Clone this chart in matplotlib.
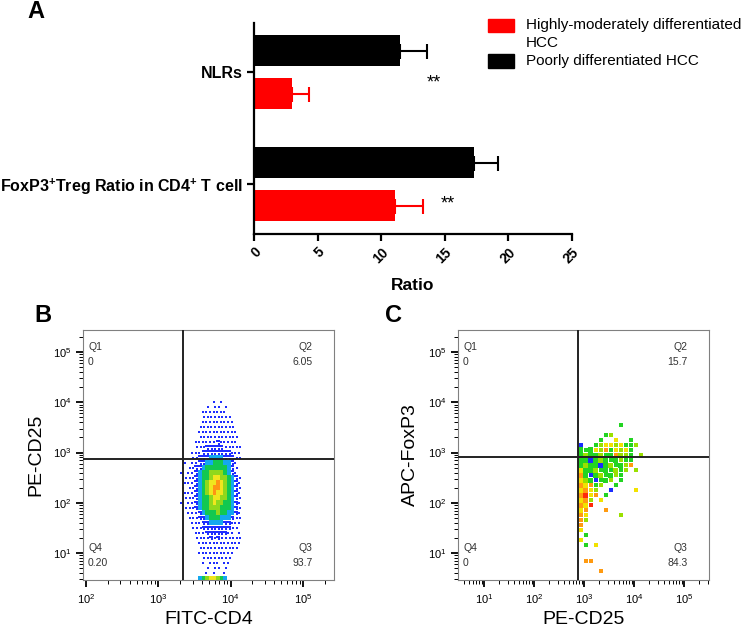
import numpy as np
import matplotlib
matplotlib.use('Agg')
import matplotlib.pyplot as plt
from matplotlib.patches import Rectangle
from matplotlib.colors import ListedColormap, BoundaryNorm
from matplotlib.ticker import LogLocator, NullFormatter

plt.rcParams['font.family'] = ['Liberation Sans', 'DejaVu Sans']
plt.rcParams['mathtext.fontset'] = 'custom'
plt.rcParams['mathtext.rm'] = 'Liberation Sans'
plt.rcParams['mathtext.bf'] = 'Liberation Sans:bold'
plt.rcParams['mathtext.it'] = 'Liberation Sans:italic'

# ---------------- Panel A data ----------------
categories = ['NLRs', r'FoxP3$^{\mathbf{+}}$Treg Ratio in CD4$^{\mathbf{+}}$ T cell']
series_names = ['Highly-moderately differentiated\nHCC', 'Poorly differentiated HCC']
high_mean = [3.0, 11.1]
high_err = [1.3, 2.2]
poor_mean = [11.5, 17.3]
poor_err = [2.1, 1.9]
sig_marks = ['**', '**']
x_ticks_A = [0, 5, 10, 15, 20, 25]

# ---------------- Panel B data (density grid, log10 units) ----------------
# columns: log10(FITC-CD4) from 3.20 in steps of 0.05 ; rows: log10(PE-CD25) from 4.05 down in steps of 0.1
B_x0, B_dx = 3.20, 0.05
B_y0, B_dy = 4.05, 0.10
B_density = [
    "           1 1     ",
    "         1 11 1    ",
    "        1111111    ",
    "        11111111   ",
    "        111111111  ",
    "       1111111111  ",
    "       11111111111 ",
    "       11111111111 ",
    "      111111211111 ",
    "      1112222211111",
    "     11122222222111",
    "     11222333322211",
    "   1 1122334443321 ",
    "  1 11223444444321 ",
    "  1 11234455554321 ",
    "   1112344566554321",
    "   1112345667654321",
    "  1 112345677654321",
    "   1112345676654321",
    "   1112344566554321",
    "  1 112344565544321",
    "   1112344555444321",
    "    111234445443321",
    "    111223444333211",
    "     11122333322111",
    "     1112222222211 ",
    "      11122222211 1",
    "      1111212111111",
    "       111111111111",
    "       11111111111 ",
    "       1111111111  ",
    "        11111111   ",
    "        1 111 11   ",
    "         1 11 1    ",
    "         1 1  1    ",
    "       34566543    ",
]
B_gate_x = 2200
B_gate_y = 730
B_quadrants = [('Q1', '0'), ('Q2', '6.05'), ('Q4', '0.20'), ('Q3', '93.7')]

# ---------------- Panel C data (event grid, log10 units) ----------------
# columns: log10(PE-CD25) from 2.88 step 0.1 ; rows: log10(APC-FoxP3) from 3.6 down step 0.1
# letter = colour of events in the cell ; upper case = many events, lower case = single event
C_x0, C_dx = 2.88, 0.10
C_y0, C_dy = 3.60, 0.10
C_events = [
    "        g    ",
    "             ",
    "     gl      ",
    "    g  y  g  ",
    "b  glyylyggl ",
    "GgGylogylyg  ",
    "GLGGLgGoLlg l",
    "GGBGLGgGlgg  ",
    "GLGGBGLgGlo  ",
    "YGGLgGgLgl l ",
    "OGbGLgGlg    ",
    "YLGbgGl g    ",
    "OYogl  g     ",
    "YOyl  b    y ",
    "ORyo g       ",
    "YOl y        ",
    "OYr          ",
    "Yo   o       ",
    "oy      l    ",
    "ol           ",
    "o            ",
    "y            ",
    " g           ",
    "y            ",
    " g y         ",
    "             ",
    "             ",
    " oo          ",
    "             ",
    "    o        ",
]
C_gate_x = 760
C_gate_y = 830
C_quadrants = [('Q1', '0'), ('Q2', '15.7'), ('Q4', '0'), ('Q3', '84.3')]

# ======================================================
fig = plt.figure(figsize=(7.47, 6.32), dpi=100)
W, H = 747.0, 632.0

def rect(l, t, r, b):
    return [l / W, 1 - b / H, (r - l) / W, (b - t) / H]

# ---------------- Panel A ----------------
axA = fig.add_axes(rect(254, 23, 572, 234))
ypos = np.arange(len(categories))
off, bh = 0.192, 0.277
axA.barh(ypos - off, poor_mean, height=bh, color='black', zorder=2)
axA.barh(ypos + off, high_mean, height=bh, color='#ff0000', zorder=2)
axA.errorbar(poor_mean, ypos - off, xerr=[np.zeros(len(poor_err)), poor_err], fmt='none',
             ecolor='black', elinewidth=1.5, capsize=5.4, capthick=1.5, zorder=1)
axA.errorbar(high_mean, ypos + off, xerr=[np.zeros(len(high_err)), high_err], fmt='none',
             ecolor='#ff0000', elinewidth=1.5, capsize=5.4, capthick=1.5, zorder=1)
axA.set_xlim(0, 25)
axA.set_ylim(1.446, -0.4375)
axA.set_yticks(ypos)
axA.set_yticklabels(categories, fontsize=11.5, fontweight='bold')
axA.set_xticks(x_ticks_A)
axA.set_xticklabels([str(v) for v in x_ticks_A], rotation=45, ha='right', va='top',
                    rotation_mode='anchor', fontsize=10, fontweight='bold')
for s in ['top', 'right']:
    axA.spines[s].set_visible(False)
for s in ['left', 'bottom']:
    axA.spines[s].set_linewidth(1.6)
axA.tick_params(axis='both', length=5, width=1.6, pad=3)
axA.set_xlabel('Ratio', fontsize=12.5, fontweight='bold', labelpad=9)
# significance marks
axA.text(14.1, 0.10, sig_marks[0], fontsize=13, ha='center', va='center')
axA.text(15.25, 1.18, sig_marks[1], fontsize=13, ha='center', va='center')

# legend (manual)
fig.add_artist(Rectangle((488 / W, 1 - 32 / H), 26 / W, 13 / H, color='#ff0000', transform=fig.transFigure))
fig.add_artist(Rectangle((488 / W, 1 - 68 / H), 26 / W, 14 / H, color='black', transform=fig.transFigure))
fig.text(526 / W, 1 - 25 / H, series_names[0].split('\n')[0], fontsize=11, va='center', ha='left')
fig.text(526 / W, 1 - 43 / H, series_names[0].split('\n')[1], fontsize=11, va='center', ha='left')
fig.text(526 / W, 1 - 61 / H, series_names[1], fontsize=11, va='center', ha='left')

# panel letters
fig.text(36 / W, 1 - 11 / H, 'A', fontsize=17, fontweight='bold', ha='center', va='center')
fig.text(43 / W, 1 - 316 / H, 'B', fontsize=17, fontweight='bold', ha='center', va='center')
fig.text(393 / W, 1 - 316 / H, 'C', fontsize=17, fontweight='bold', ha='center', va='center')


def flow_axes(r, xl, yl, xlabel, ylabel):
    ax = fig.add_axes(r)
    ax.set_xscale('log')
    ax.set_yscale('log')
    ax.set_xlim(10 ** xl[0], 10 ** xl[1])
    ax.set_ylim(10 ** yl[0], 10 ** yl[1])
    for s in ax.spines.values():
        s.set_color('#808080')
        s.set_linewidth(0.8)
    ax.xaxis.set_major_locator(LogLocator(base=10, numticks=10))
    ax.yaxis.set_major_locator(LogLocator(base=10, numticks=10))
    ax.xaxis.set_minor_locator(LogLocator(base=10, subs=np.arange(2, 10), numticks=20))
    ax.yaxis.set_minor_locator(LogLocator(base=10, subs=np.arange(2, 10), numticks=20))
    ax.xaxis.set_minor_formatter(NullFormatter())
    ax.yaxis.set_minor_formatter(NullFormatter())
    ax.tick_params(which='major', length=5, width=1.3, color='black', labelsize=8, direction='out')
    ax.tick_params(which='minor', length=3, width=0.7, color='black', direction='out')
    ax.set_xlabel(xlabel, fontsize=14, labelpad=4)
    ax.set_ylabel(ylabel, fontsize=14, labelpad=6)
    return ax


def quad_labels(ax, q):
    kw = dict(fontsize=7.5, color='#333333', transform=ax.transAxes, va='center')
    ax.text(0.02, 0.932, q[0][0], ha='left', **kw)
    ax.text(0.02, 0.872, q[0][1], ha='left', **kw)
    ax.text(0.915, 0.932, q[1][0], ha='right', **kw)
    ax.text(0.915, 0.872, q[1][1], ha='right', **kw)
    ax.text(0.02, 0.128, q[2][0], ha='left', **kw)
    ax.text(0.02, 0.068, q[2][1], ha='left', **kw)
    ax.text(0.915, 0.128, q[3][0], ha='right', **kw)
    ax.text(0.915, 0.068, q[3][1], ha='right', **kw)

# ---------------- Panel B ----------------
axB = flow_axes(rect(83, 330, 334, 580), (1.959, 5.429), (0.463, 5.438), 'FITC-CD4', 'PE-CD25')
nB = len(B_density[0])
lev = np.array([[0 if c == ' ' else int(c) for c in row.ljust(nB)] for row in B_density])
xe = 10 ** (B_x0 + B_dx * np.arange(nB + 1))
ye = 10 ** (B_y0 - B_dy * np.arange(len(B_density) + 1))
colsB = ['#1e2dff', '#14a8ee', '#12c850', '#8fd81c', '#f0e61e', '#ff9414', '#ff2a0a']
cmapB = ListedColormap(colsB[1:])
normB = BoundaryNorm(np.arange(2.5, 9.5, 1.0), cmapB.N)
axB.pcolormesh(xe, ye, np.ma.masked_where(lev < 3, lev), cmap=cmapB, norm=normB, zorder=1)
# sparse cells -> individual events
jj, ii = np.nonzero(lev == 1)
shift = np.where(jj % 2 == 0, 0.3, 0.7)
axB.scatter(10 ** (B_x0 + B_dx * (ii + shift)), 10 ** (B_y0 - B_dy * (jj + 0.5)), s=3.2, marker='s',
            color=colsB[0], linewidths=0, zorder=1)
jj, ii = np.nonzero(lev == 2)
for fx, fy in ((0.25, 0.25), (0.75, 0.75), (0.75, 0.25)):
    axB.scatter(10 ** (B_x0 + B_dx * (ii + fx)), 10 ** (B_y0 - B_dy * (jj + fy)), s=3.6, marker='s',
                color=colsB[0], linewidths=0, zorder=1)
axB.axvline(B_gate_x, color='#222222', lw=1.4, zorder=3)
axB.axhline(B_gate_y, color='#222222', lw=1.4, zorder=3)
quad_labels(axB, B_quadrants)

# ---------------- Panel C ----------------
axC = flow_axes(rect(458, 330, 709, 580), (0.48, 5.5), (0.463, 5.438), 'PE-CD25', 'APC-FoxP3')
color_of = {'g': '#22d422', 'l': '#9ae000', 'y': '#f2e200', 'o': '#ff9a10', 'r': '#ff2a0a',
            'b': '#1a2cff', 't': '#0a8a8a'}
for j, row in enumerate(C_events):
    for i, ch in enumerate(row):
        if ch == ' ':
            continue
        c = color_of[ch.lower()]
        if ch.isupper():
            axC.fill_between([10 ** (C_x0 + C_dx * i), 10 ** (C_x0 + C_dx * (i + 1))],
                             10 ** (C_y0 - C_dy * (j + 1)), 10 ** (C_y0 - C_dy * j),
                             color=c, linewidth=0, zorder=1)
        else:
            axC.scatter([10 ** (C_x0 + C_dx * (i + 0.5))], [10 ** (C_y0 - C_dy * (j + 0.5))],
                        s=6, marker='s', color=c, linewidths=0, zorder=1)
axC.axvline(C_gate_x, color='#222222', lw=1.4, zorder=3)
axC.axhline(C_gate_y, color='#222222', lw=1.4, zorder=3)
quad_labels(axC, C_quadrants)

fig.savefig('out.png', dpi=100)
